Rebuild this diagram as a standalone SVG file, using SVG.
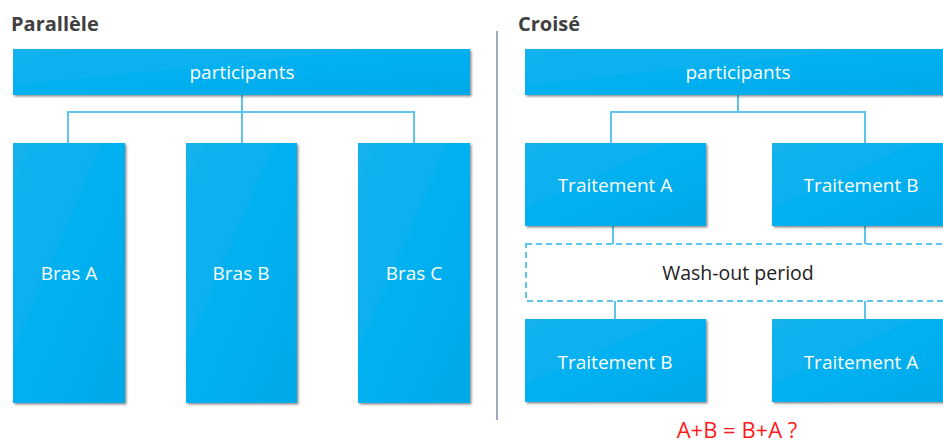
<svg xmlns="http://www.w3.org/2000/svg" width="943" height="445" viewBox="0 0 943 445">
<defs>
<linearGradient id="g" x1="0" y1="0" x2="1" y2="1">
<stop offset="0" stop-color="#14b2ee"/>
<stop offset="0.5" stop-color="#03b0f0"/>
<stop offset="1" stop-color="#02a9e8"/>
</linearGradient>
<filter id="sh" x="-5%" y="-5%" width="115%" height="115%">
<feDropShadow dx="1.5" dy="1.5" stdDeviation="1" flood-color="#000" flood-opacity="0.45"/>
</filter>
</defs>
<style>
.box{fill:url(#g);filter:url(#sh);}
.lbl{font-family:"Open Sans","Noto Sans",sans-serif;font-size:19px;fill:#ffffff;text-anchor:middle;}
.head{font-family:"Open Sans","Noto Sans",sans-serif;font-size:20px;font-weight:bold;fill:#404040;}
.conn{stroke:#5cc6ee;stroke-width:2;fill:none;}
</style>
<rect width="943" height="445" fill="#ffffff"/>
<text class="head" x="11" y="31">Parallèle</text>
<text class="head" x="518" y="31">Croisé</text>
<line x1="497" y1="31" x2="497" y2="420" stroke="#a2a9bd" stroke-width="2"/>
<g id="connectors">
<path class="conn" d="M242,95 V112 M68,143 V112 H414 V143 M242,112 V143"/>
<path class="conn" d="M738,95 V112 M611,143 V112 H865 V143"/>
<path class="conn" d="M613,226 V244 M865,226 V244"/>
<path class="conn" d="M615,301 V319 M865,301 V319"/>
</g>
<g id="p-participants"><rect class="box" x="13" y="49" width="457" height="46"/><text class="lbl" x="242" y="79">participants</text></g>
<g id="bras-a"><rect class="box" x="13" y="143" width="112" height="260"/><text class="lbl" x="69" y="280">Bras A</text></g>
<g id="bras-b"><rect class="box" x="186" y="143" width="111" height="260"/><text class="lbl" x="241" y="280">Bras B</text></g>
<g id="bras-c"><rect class="box" x="358" y="143" width="112" height="260"/><text class="lbl" x="414" y="280">Bras C</text></g>
<g id="c-participants"><rect class="box" x="525" y="49" width="425" height="46"/><text class="lbl" x="738" y="79">participants</text></g>
<g id="c-ta1"><rect class="box" x="525" y="143" width="181" height="83"/><text class="lbl" x="615" y="192">Traitement A</text></g>
<g id="c-tb1"><rect class="box" x="772" y="143" width="180" height="83"/><text class="lbl" x="861" y="192">Traitement B</text></g>
<g id="washout"><rect x="526" y="244" width="430" height="57" fill="none" stroke="#5cc6ee" stroke-width="2" stroke-dasharray="6 4"/><text x="738" y="280" font-family="'Open Sans','Noto Sans',sans-serif" font-size="19.5" fill="#222222" text-anchor="middle">Wash-out period</text></g>
<g id="c-tb2"><rect class="box" x="525" y="319" width="181" height="83"/><text class="lbl" x="615" y="369">Traitement B</text></g>
<g id="c-ta2"><rect class="box" x="772" y="319" width="180" height="83"/><text class="lbl" x="861" y="369">Traitement A</text></g>
<text x="737" y="438" font-family="'Open Sans','Noto Sans',sans-serif" font-size="22" fill="#ff1a1a" text-anchor="middle">A+B = B+A ?</text>
</svg>
